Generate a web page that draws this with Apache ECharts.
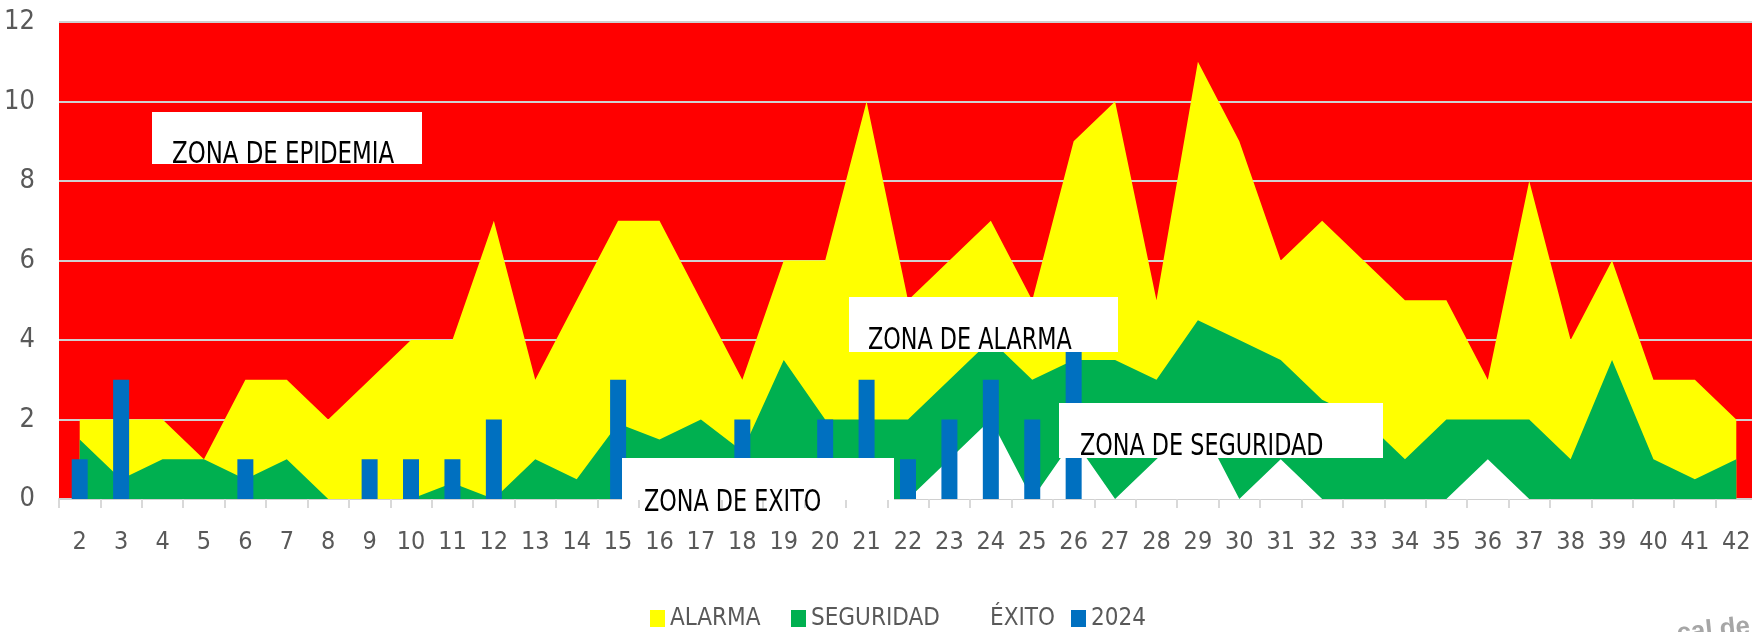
<!DOCTYPE html>
<html>
<head>
<meta charset="utf-8">
<title>Canal endémico 2024</title>
<script src="https://cdn.jsdelivr.net/npm/echarts@6/dist/echarts.min.js"></script>
<style>
  html, body { margin: 0; padding: 0; background: #fff; }
  #chart { width: 1752px; height: 632px; }
</style>
</head>
<body>
<div id="chart"></div>
<script>
// semanas epidemiológicas
const semanas = ['2', '3', '4', '5', '6', '7', '8', '9', '10', '11', '12', '13', '14', '15', '16', '17', '18', '19', '20', '21',
  '22', '23', '24', '25', '26', '27', '28', '29', '30', '31', '32', '33', '34', '35', '36', '37', '38', '39', '40', '41', '42']

// límites del canal endémico
const alarma = [2, 2, 2, 1, 3, 3, 2, 3, 4, 4, 7, 3, 5, 7, 7, 5, 3, 6, 6, 10,
  5, 6, 7, 5, 9, 10, 5, 11, 9, 6, 7, 6, 5, 5, 3, 8, 4, 6, 3, 3, 2]
const seguridad = [1.5, 0.5, 1, 1, 0.5, 1, 0, 0, 0, 0.4, 0, 1, 0.5, 1.9, 1.5, 2, 1.2, 3.5, 2, 2,
  2, 3, 4, 3, 3.5, 3.5, 3, 4.5, 4, 3.5, 2.5, 2, 1, 2, 2, 2, 1, 3.5, 1, 0.5, 1]
const exito = [0, 0, 0, 0, 0, 0, 0, 0, 0, 0, 0, 0, 0, 0, 0, 0, 0, 0, 0, 0,
  0, 1, 2, 0, 1.5, 0, 1, 2, 0, 1, 0, 0, 0, 0, 1, 0, 0, 0, 0, 0, 0]

// casos 2024
const casos2024 = [1, 3, 0, 0, 1, 0, 0, 1, 1, 1, 2, 0, 0, 3, 0, 0, 2, 0, 2, 3,
  1, 2, 3, 2, 4, 0, 0, 0, 0, 0, 0, 0, 0, 0, 0, 0, 0, 0, 0, 0, 0]

const yTicks = [0, 2, 4, 6, 8, 10, 12]

const FONT = "'Liberation Sans Narrow', 'DejaVu Sans Condensed', 'Arial Narrow', sans-serif"
const GREY = '#595959'

const chart = echarts.init(document.getElementById('chart'))

const areaSerie = (name, data, color) => ({
  name: name,
  type: 'line',
  data: data,
  z: 2,
  showSymbol: false,
  symbol: 'none',
  silent: true,
  lineStyle: { width: 0, opacity: 0 },
  itemStyle: { color: color, borderWidth: 0 },
  areaStyle: { color: color, opacity: 1 }
})

const legendItem = (name, left) => ({
  data: [name],
  left: left,
  top: 606,
  padding: 0,
  icon: 'rect',
  itemWidth: 15,
  itemHeight: 17,
  itemStyle: { borderWidth: 0 },
  textStyle: { fontSize: 24, color: GREY, fontFamily: FONT, lineHeight: 25 }
})

// cuadros de texto de las zonas
const zona = (texto, box, tx, ty, sx) => [
  { type: 'rect', z: 100, shape: box, style: { fill: '#ffffff' } },
  {
    type: 'text', z: 101, x: tx, y: ty, scaleX: sx,
    style: { text: texto, fontSize: 31, fontFamily: FONT, fill: '#000000', verticalAlign: 'middle' }
  }
]

const option = {
  animation: false,
  backgroundColor: '#ffffff',
  grid: {
    left: 59,
    top: 22,
    width: 1698,
    height: 477,
    show: true,
    backgroundColor: '#ff0000',
    borderWidth: 0,
    outerBoundsMode: 'none'
  },
  legend: [
    legendItem('ALARMA', 650),
    legendItem('SEGURIDAD', 791),
    legendItem('ÉXITO', 970),
    legendItem('2024', 1071)
  ],
  xAxis: {
    type: 'category',
    data: semanas,
    boundaryGap: true,
    axisLine: { lineStyle: { color: '#d0d0d0', width: 2 } },
    axisTick: { show: true, length: 9, lineStyle: { color: '#d9d9d9', width: 2 } },
    axisLabel: { color: GREY, fontSize: 25, fontFamily: FONT, margin: 31, interval: 0 },
    splitLine: { show: false }
  },
  yAxis: {
    type: 'value',
    min: yTicks[0],
    max: yTicks[yTicks.length - 1],
    interval: 2,
    axisLine: { show: false },
    axisTick: { show: false },
    axisLabel: { color: GREY, fontSize: 27, fontFamily: FONT, margin: 24 },
    splitLine: { lineStyle: { color: '#d0d0d0', width: 2 } }
  },
  series: [
    areaSerie('ALARMA', alarma, '#ffff00'),
    areaSerie('SEGURIDAD', seguridad, '#00b050'),
    areaSerie('ÉXITO', exito, '#ffffff'),
    {
      name: '2024',
      type: 'bar',
      data: casos2024,
      z: 5,
      barWidth: 16,
      silent: true,
      itemStyle: { color: '#0070c0' }
    }
  ],
  graphic: [
    ...zona('ZONA DE EPIDEMIA', { x: 152, y: 112, width: 270, height: 52 }, 172, 155, 0.82),
    ...zona('ZONA DE ALARMA', { x: 849, y: 297, width: 269, height: 55 }, 868, 341, 0.8),
    ...zona('ZONA DE EXITO', { x: 622, y: 458, width: 272, height: 42 }, 644, 503, 0.8),
    ...zona('ZONA DE SEGURIDAD', { x: 1059, y: 403, width: 324, height: 55 }, 1080, 447, 0.8),
    {
      type: 'text', z: 101, x: 1678, y: 647, rotation: 0.1,
      style: { text: 'cal de', fontSize: 26, fontWeight: 'bold', fontFamily: 'Liberation Sans, sans-serif', fill: '#a6a6a6', verticalAlign: 'bottom' }
    }
  ]
}

chart.setOption(option)
</script>
</body>
</html>
